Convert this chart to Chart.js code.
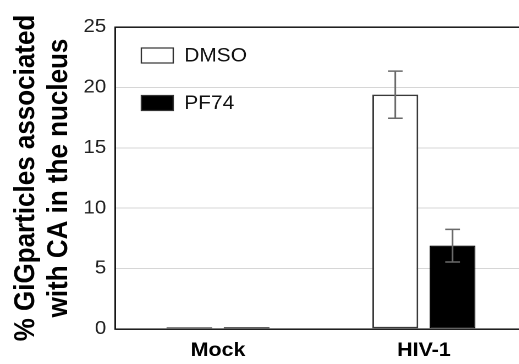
<!DOCTYPE html>
<html>
<head>
<meta charset="utf-8">
<script src="https://cdn.jsdelivr.net/npm/chart.js@4.4.1/dist/chart.umd.min.js"></script>
<style>
  html, body { margin: 0; padding: 0; background: #fff; overflow: hidden; }
  #wrap { width: 519px; height: 364px; overflow: hidden; }
  /* the source figure is slightly stretched horizontally */
  #box { width: 479px; height: 364px; transform: scaleX(1.1); transform-origin: 0 0; }
</style>
</head>
<body>
<div id="wrap"><div id="box"><canvas id="chart"></canvas></div></div>
<script>
// Chart data
const categories = ['Mock', 'HIV-1'];
const dmsoValues = [0.15, 19.4];
const dmsoErrors = [0, 1.95];
const pf74Values = [0.15, 6.9];
const pf74Errors = [0, 1.35];
const yTicks = [0, 5, 10, 15, 20, 25];
const yTitle = ['% GiGparticles associated', 'with CA in the nucleus'];

const FONT = '"Liberation Sans", Arial, Helvetica, sans-serif';

// Error bars drawn on top of each bar
const errorBarPlugin = {
    id: 'errorBars',
    afterDatasetsDraw(chart) {
        const ctx = chart.ctx;
        const yScale = chart.scales.y;
        chart.data.datasets.forEach((dataset, di) => {
            const meta = chart.getDatasetMeta(di);
            meta.data.forEach((bar, i) => {
                const err = dataset.errors[i];
                if (!err) return;
                const v = dataset.data[i];
                const yTop = yScale.getPixelForValue(v + err);
                const yBot = yScale.getPixelForValue(v - err);
                ctx.save();
                ctx.strokeStyle = '#6a6a6a';
                ctx.lineWidth = 1.5;
                ctx.beginPath();
                ctx.moveTo(bar.x, yTop);
                ctx.lineTo(bar.x, yBot);
                ctx.moveTo(bar.x - 6.7, yTop);
                ctx.lineTo(bar.x + 6.7, yTop);
                ctx.moveTo(bar.x - 6.7, yBot);
                ctx.lineTo(bar.x + 6.7, yBot);
                ctx.stroke();
                ctx.restore();
            });
        });
    }
};

// Legend boxes inside the plot area, top left
const insideLegend = {
    id: 'insideLegend',
    afterDraw(chart) {
        const ctx = chart.ctx;
        const area = chart.chartArea;
        ctx.save();
        chart.data.datasets.forEach((ds, i) => {
            const x = area.left + 24;
            const y = area.top + 21 + i * 47.5;
            ctx.fillStyle = ds.backgroundColor;
            ctx.fillRect(x, y, 29, 15);
            ctx.strokeStyle = '#333';
            ctx.lineWidth = 1.2;
            ctx.strokeRect(x, y, 29, 15);
            ctx.fillStyle = '#111';
            ctx.font = '19px ' + FONT;
            ctx.textBaseline = 'middle';
            ctx.textAlign = 'left';
            ctx.fillText(ds.label, x + 39, y + 8.5);
        });
        ctx.restore();
    }
};

new Chart(document.getElementById('chart'), {
    type: 'bar',
    data: {
        labels: categories,
        datasets: [
            {
                label: 'DMSO',
                data: dmsoValues,
                errors: dmsoErrors,
                backgroundColor: '#ffffff',
                borderColor: '#3a3a3a',
                borderWidth: 1.5,
                borderSkipped: false
            },
            {
                label: 'PF74',
                data: pf74Values,
                errors: pf74Errors,
                backgroundColor: '#000000',
                borderColor: '#000000',
                borderWidth: 1,
                borderSkipped: false
            }
        ]
    },
    options: {
        responsive: true,
        maintainAspectRatio: false,
        animation: false,
        devicePixelRatio: 2,
        layout: { padding: { top: 27, left: 0, right: 0, bottom: 0 } },
        categoryPercentage: 0.556,
        barPercentage: 0.8,
        plugins: {
            legend: { display: false },
            tooltip: { enabled: false }
        },
        scales: {
            x: {
                grid: { display: false, drawTicks: false },
                border: { display: false },
                ticks: {
                    color: '#000',
                    padding: 10,
                    font: { family: FONT, size: 19.5, weight: 'bold' }
                },
                afterFit(scale) { scale.height = 35; }
            },
            y: {
                min: 0,
                max: 25,
                afterBuildTicks(scale) {
                    scale.ticks = yTicks.map(v => ({ value: v }));
                },
                grid: {
                    drawTicks: false,
                    color: ctx => (ctx.tick && (ctx.tick.value === 25 || ctx.tick.value === 0)) ? '#000' : '#d6d6d6',
                    lineWidth: ctx => (ctx.tick && (ctx.tick.value === 25 || ctx.tick.value === 0)) ? 1.4 : 1
                },
                border: { display: true, color: '#000', width: 1.4 },
                ticks: {
                    color: '#222',
                    padding: 8,
                    font: { family: FONT, size: 18.5 }
                },
                title: {
                    display: true,
                    text: yTitle,
                    color: '#000',
                    padding: { top: 9, bottom: 0 },
                    font: { family: FONT, size: 26, weight: 'bold', lineHeight: 1.15 }
                },
                afterFit(scale) { scale.width = 104.5; }
            }
        }
    },
    plugins: [errorBarPlugin, insideLegend]
});
</script>
</body>
</html>
